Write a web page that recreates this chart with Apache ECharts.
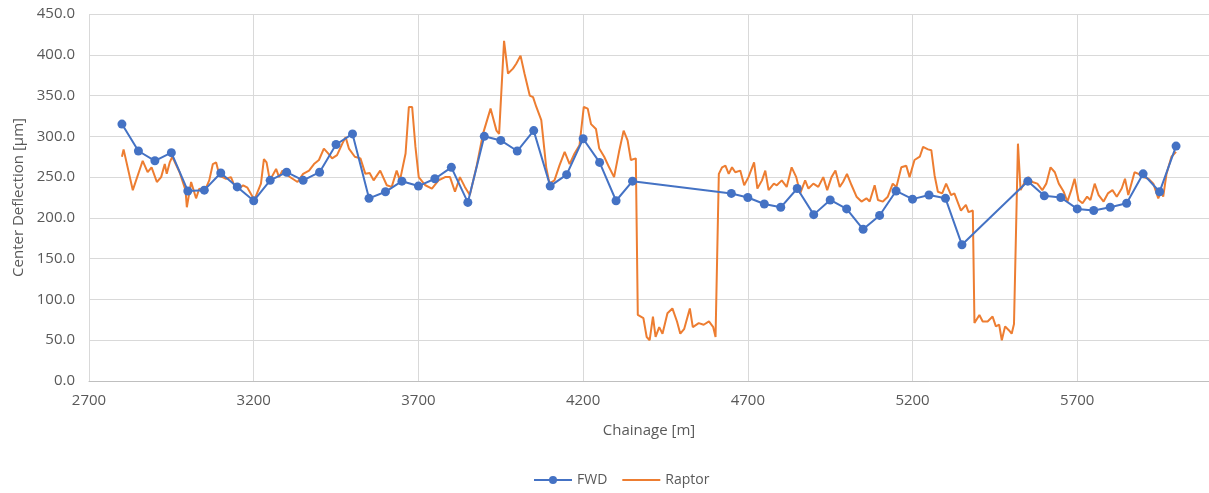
<!DOCTYPE html>
<html>
<head>
<meta charset="utf-8">
<title>Center Deflection</title>
<script src="https://cdn.jsdelivr.net/npm/echarts@6/dist/echarts.min.js"></script>
<style>
  html, body { margin: 0; padding: 0; background: #fff; }
  #chart { width: 1209px; height: 493px; }
</style>
</head>
<body>
<div id="chart"></div>
<script>
// FWD - one reading every 50 m
const fwdChainage = [
  2800, 2850, 2900, 2950, 3000, 3050, 3100, 3150, 3200, 3250, 3300, 3350, 3400, 3450, 3500,
  3550, 3600, 3650, 3700, 3750, 3800, 3850, 3900, 3950, 4000, 4050, 4100, 4150, 4200, 4250,
  4300, 4350, 4650, 4700, 4750, 4800, 4850, 4900, 4950, 5000, 5050, 5100, 5150, 5200, 5250,
  5300, 5350, 5550, 5600, 5650, 5700, 5750, 5800, 5850, 5900, 5950, 6000
]
const fwdDeflection = [
  315, 282, 270, 280, 233, 234, 255, 238, 221, 246, 256, 246, 256, 290, 303,
  224, 232, 245, 239, 248, 262, 219, 300, 295, 282, 307, 239, 253, 297, 268,
  221, 245, 230, 225, 217, 213, 236, 204, 222, 211, 186, 203, 233, 223, 228,
  224, 167, 245, 227, 225, 211, 209, 213, 218, 254, 232, 288
]

// Raptor - continuous survey
const raptorChainage = [
  2800, 2805, 2833, 2863, 2878, 2890, 2906, 2919, 2930, 2936, 2945, 2953, 2975, 2993, 2997,
  3010, 3025, 3035, 3050, 3065, 3076, 3086, 3096, 3116, 3131, 3141, 3156, 3168, 3181, 3202,
  3222, 3231, 3239, 3249, 3268, 3277, 3287, 3303, 3318, 3333, 3350, 3368, 3383, 3398, 3413,
  3426, 3438, 3453, 3469, 3479, 3489, 3507, 3524, 3539, 3552, 3564, 3584, 3604, 3619, 3634,
  3644, 3661, 3671, 3681, 3691, 3701, 3721, 3741, 3761, 3781, 3796, 3811, 3826, 3841, 3856,
  3876, 3896, 3919, 3937, 3945, 3960, 3972, 3987, 3997, 4010, 4022, 4038, 4048, 4058, 4073,
  4088, 4098, 4113, 4128, 4144, 4159, 4174, 4189, 4202, 4214, 4224, 4239, 4249, 4264, 4279,
  4294, 4309, 4323, 4335, 4345, 4360, 4366, 4383, 4393, 4402, 4412, 4420, 4431, 4441, 4456,
  4471, 4485, 4495, 4507, 4524, 4533, 4551, 4566, 4582, 4595, 4602, 4612, 4622, 4632, 4642,
  4652, 4662, 4677, 4689, 4702, 4719, 4729, 4743, 4753, 4763, 4779, 4788, 4803, 4818, 4833,
  4847, 4859, 4874, 4884, 4899, 4914, 4929, 4941, 4954, 4966, 4979, 4989, 5001, 5015, 5030,
  5045, 5060, 5070, 5085, 5095, 5110, 5125, 5140, 5151, 5166, 5181, 5191, 5206, 5222, 5232,
  5247, 5257, 5267, 5277, 5290, 5302, 5317, 5327, 5347, 5362, 5370, 5383, 5388, 5393, 5403,
  5413, 5428, 5443, 5453, 5463, 5471, 5481, 5493, 5501, 5508, 5520, 5528, 5538, 5552, 5564,
  5579, 5594, 5606, 5619, 5632, 5644, 5659, 5670, 5682, 5692, 5704, 5716, 5730, 5740, 5753,
  5765, 5780, 5793, 5807, 5820, 5835, 5845, 5855, 5874, 5886, 5901, 5916, 5931, 5941, 5946,
  5956, 5961, 5971, 5986, 6000
]
const raptorDeflection = [
  275, 284, 234, 270, 256, 262, 244, 250, 266, 254, 268, 275, 256, 234, 213,
  244, 224, 236, 232, 246, 266, 268, 252, 248, 250, 240, 236, 240, 237, 222,
  242, 272, 268, 246, 260, 250, 258, 252, 248, 244, 254, 258, 266, 271, 285,
  279, 273, 277, 291, 299, 285, 275, 273, 254, 255, 246, 258, 240, 238, 258,
  246, 279, 336, 336, 287, 250, 240, 236, 246, 250, 250, 232, 250, 238, 228,
  262, 303, 334, 307, 303, 417, 377, 383, 389, 399, 377, 350, 348, 336, 320,
  262, 242, 246, 264, 281, 266, 279, 289, 336, 334, 315, 309, 285, 275, 262,
  250, 281, 307, 295, 271, 273, 81, 77, 54, 50, 79, 54, 66, 58, 83,
  89, 73, 58, 64, 89, 66, 71, 69, 73, 66, 54, 254, 262, 264, 254,
  262, 256, 258, 240, 250, 268, 236, 246, 258, 234, 242, 240, 246, 238, 262,
  250, 230, 246, 236, 242, 238, 250, 234, 250, 258, 238, 244, 254, 240, 226,
  220, 224, 220, 240, 222, 220, 226, 242, 238, 262, 264, 250, 271, 275, 287,
  284, 283, 252, 232, 230, 242, 228, 230, 209, 216, 207, 209, 71, 69, 81,
  73, 73, 79, 67, 69, 50, 67, 62, 58, 70, 291, 234, 242, 250, 244,
  242, 234, 242, 262, 256, 242, 232, 220, 234, 248, 222, 218, 226, 222, 242,
  228, 220, 230, 234, 226, 236, 248, 228, 256, 254, 250, 248, 242, 230, 224,
  234, 226, 254, 275, 281
]

const zip = (xs, ys) => xs.map((x, i) => [x, ys[i]])

const textColor = '#595959'
const fontFamily = 'Open Sans, Noto Sans, sans-serif'

const chart = echarts.init(document.getElementById('chart'), null, { renderer: 'canvas' })

chart.setOption({
  animation: false,
  backgroundColor: '#ffffff',
  textStyle: {
    fontFamily: fontFamily
  },
  grid: {
    left: 89,
    right: -5,
    top: 14,
    bottom: 112,
    containLabel: false
  },
  legend: {
    bottom: 1,
    left: 528,
    itemWidth: 38,
    itemHeight: 10,
    itemGap: 14,
    textStyle: {
      color: textColor,
      fontSize: 14,
      fontFamily: fontFamily
    },
    data: [
      { name: 'FWD' },
      // plain line for Raptor, no marker
      { name: 'Raptor', itemStyle: { color: 'rgba(0,0,0,0)', borderWidth: 0 } }
    ]
  },
  xAxis: {
    type: 'value',
    min: 2700,
    max: 6100,
    interval: 500,
    name: 'Chainage [m]',
    nameLocation: 'middle',
    nameGap: 42,
    nameTextStyle: {
      color: textColor,
      fontSize: 15
    },
    axisLine: {
      lineStyle: { color: '#bfbfbf', width: 1 }
    },
    axisTick: { show: false },
    axisLabel: {
      color: textColor,
      fontSize: 15,
      margin: 12,
      showMaxLabel: false,
      formatter: v => String(v)
    },
    splitLine: {
      show: true,
      lineStyle: { color: '#d9d9d9', width: 1 }
    }
  },
  yAxis: {
    type: 'value',
    min: 0,
    max: 450,
    interval: 50,
    name: 'Center Deflection [µm]',
    nameLocation: 'middle',
    nameGap: 62,
    nameTextStyle: {
      color: textColor,
      fontSize: 15
    },
    axisLine: { show: false },
    axisTick: { show: false },
    axisLabel: {
      color: textColor,
      fontSize: 15,
      margin: 14,
      formatter: v => v.toFixed(1)
    },
    splitLine: {
      lineStyle: { color: '#d9d9d9', width: 1 }
    }
  },
  series: [
    {
      name: 'Raptor',
      type: 'line',
      data: zip(raptorChainage, raptorDeflection),
      symbol: 'none',
      z: 2,
      lineStyle: { color: '#ed7d31', width: 2 },
      itemStyle: { color: '#ed7d31' }
    },
    {
      name: 'FWD',
      type: 'line',
      data: zip(fwdChainage, fwdDeflection),
      symbol: 'circle',
      symbolSize: 9,
      z: 3,
      lineStyle: { color: '#4472c4', width: 2 },
      itemStyle: { color: '#4472c4' }
    }
  ]
})
</script>
</body>
</html>
